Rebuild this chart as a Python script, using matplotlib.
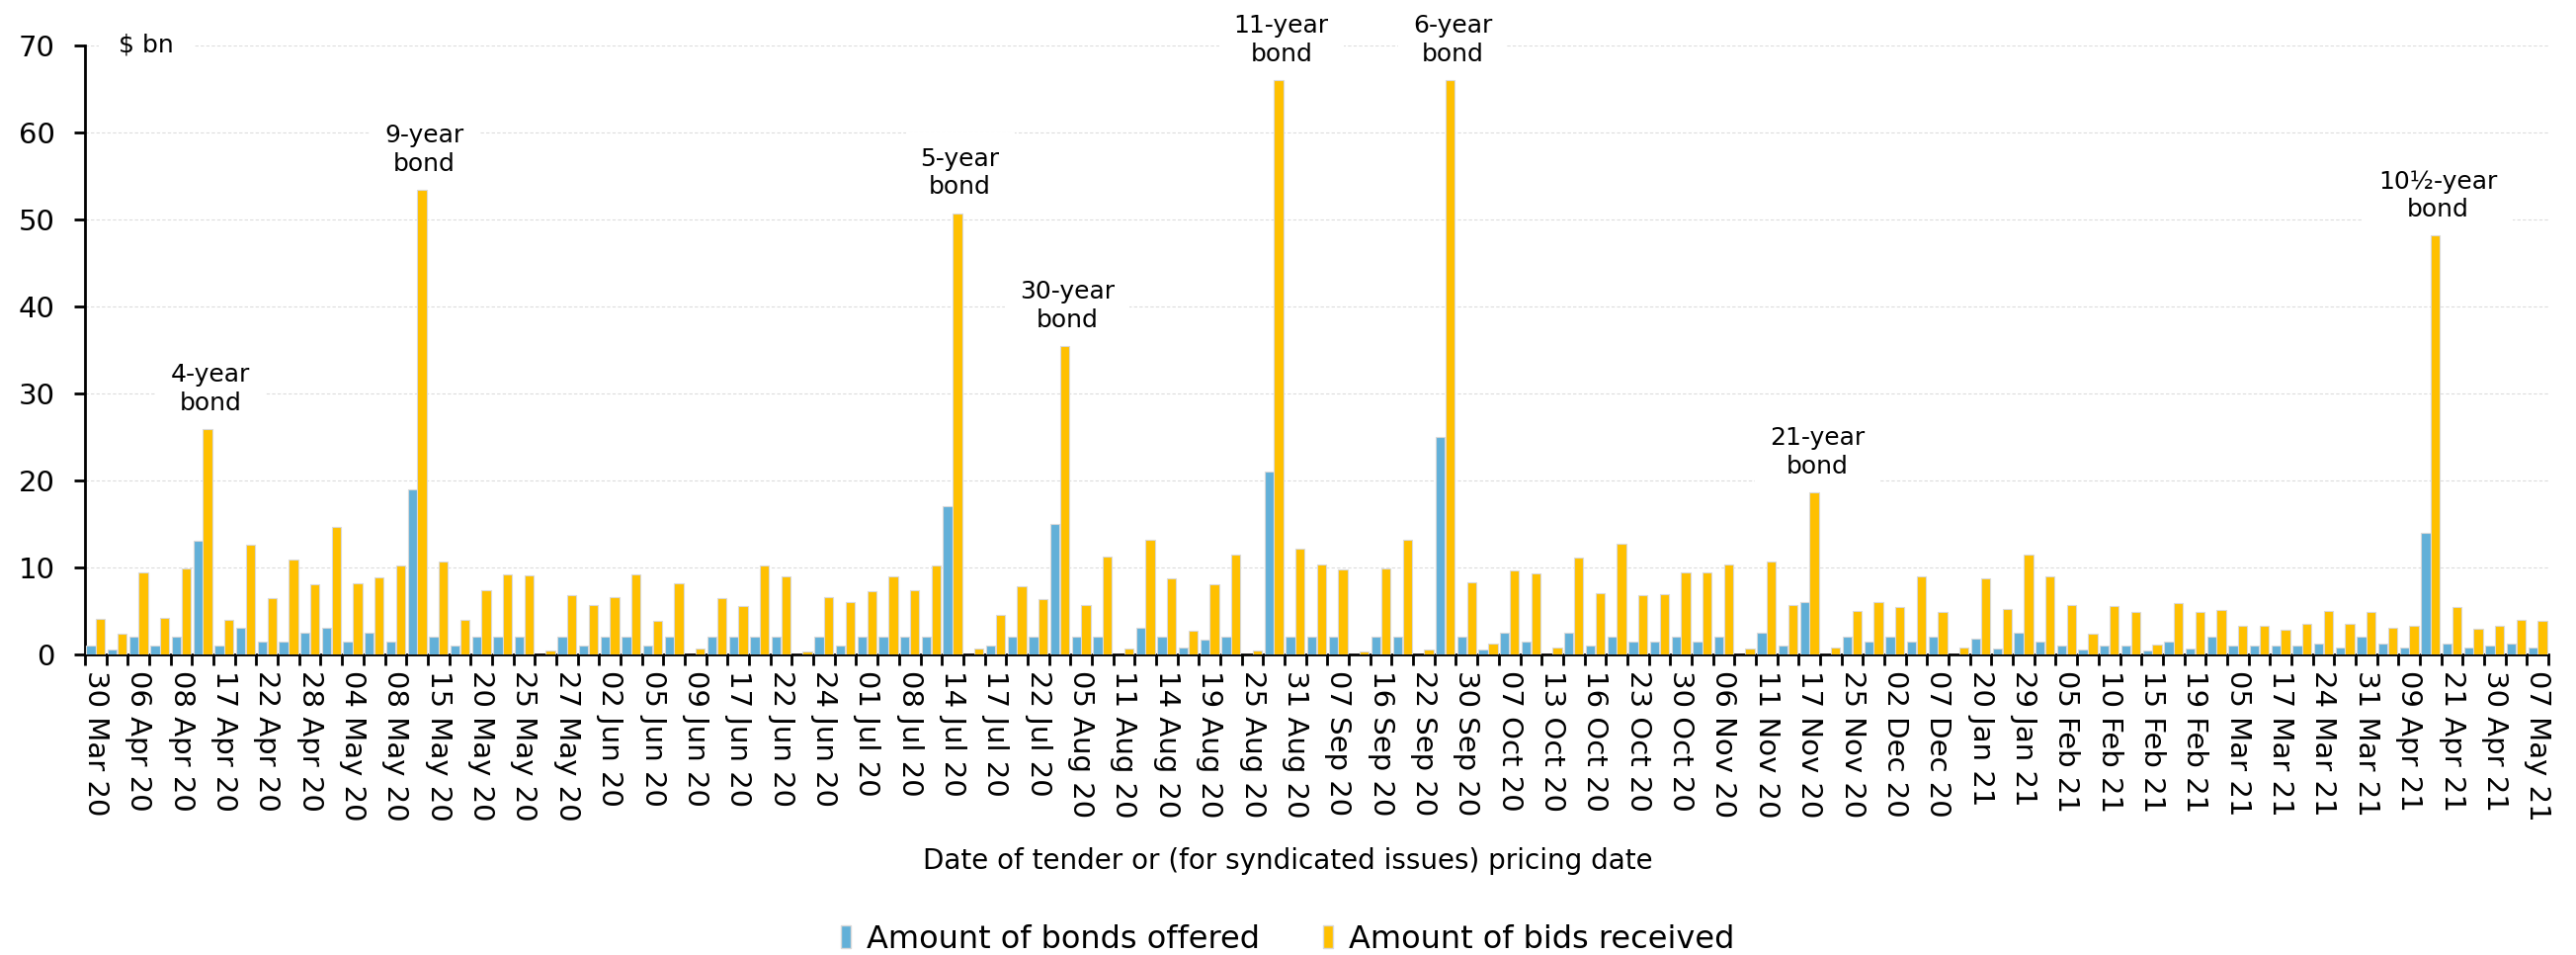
import matplotlib
matplotlib.use("Agg")
import matplotlib.pyplot as plt
import numpy as np
from matplotlib.patches import Patch

plt.rcParams["font.family"] = ["DejaVu Sans"]

_BLUE = "#62b0d8"
_GOLD = "#ffc000"
_EDGE = "#d9d9d9"
_GRID = "#dcdcdc"
_INK = "#000000"

# Every second tender date is labelled on the axis
tick_labels = [
    "30 Mar 20", "06 Apr 20", "08 Apr 20", "17 Apr 20", "22 Apr 20", "28 Apr 20",
    "04 May 20", "08 May 20", "15 May 20", "20 May 20", "25 May 20", "27 May 20",
    "02 Jun 20", "05 Jun 20", "09 Jun 20", "17 Jun 20", "22 Jun 20", "24 Jun 20",
    "01 Jul 20", "08 Jul 20", "14 Jul 20", "17 Jul 20", "22 Jul 20", "05 Aug 20",
    "11 Aug 20", "14 Aug 20", "19 Aug 20", "25 Aug 20", "31 Aug 20", "07 Sep 20",
    "16 Sep 20", "22 Sep 20", "30 Sep 20", "07 Oct 20", "13 Oct 20", "16 Oct 20",
    "23 Oct 20", "30 Oct 20", "06 Nov 20", "11 Nov 20", "17 Nov 20", "25 Nov 20",
    "02 Dec 20", "07 Dec 20", "20 Jan 21", "29 Jan 21", "05 Feb 21", "10 Feb 21",
    "15 Feb 21", "19 Feb 21", "05 Mar 21", "17 Mar 21", "24 Mar 21", "31 Mar 21",
    "09 Apr 21", "21 Apr 21", "30 Apr 21", "07 May 21",
]

# $ bn, one value per tender / syndication
offered = [
    1.0, 0.5, 2.0, 1.0, 2.0, 13.0, 1.0, 3.0, 1.5, 1.5,
    2.5, 3.0, 1.5, 2.5, 1.5, 19.0, 2.0, 1.0, 2.0, 2.0,
    2.0, 0.0, 2.0, 1.0, 2.0, 2.0, 1.0, 2.0, 0.0, 2.0,
    2.0, 2.0, 2.0, 0.0, 2.0, 1.0, 2.0, 2.0, 2.0, 2.0,
    17.0, 0.0, 1.0, 2.0, 2.0, 15.0, 2.0, 2.0, 0.0, 3.0,
    2.0, 0.8, 1.7, 2.0, 0.0, 21.0, 2.0, 2.0, 2.0, 0.0,
    2.0, 2.0, 0.0, 25.0, 2.0, 0.5, 2.5, 1.5, 0.0, 2.5,
    1.0, 2.0, 1.5, 1.5, 2.0, 1.5, 2.0, 0.0, 2.5, 1.0,
    6.0, 0.0, 2.0, 1.5, 2.0, 1.5, 2.0, 0.0, 1.8, 0.7,
    2.5, 1.5, 1.0, 0.5, 1.0, 1.0, 0.4, 1.5, 0.6, 2.0,
    1.0, 1.0, 1.0, 1.0, 1.2, 0.8, 2.0, 1.2, 0.8, 14.0,
    1.2, 0.8, 1.0, 1.2, 0.8,
]
bids = [
    4.1, 2.4, 9.4, 4.2, 9.8, 25.9, 4.0, 12.6, 6.4, 10.9,
    8.0, 14.6, 8.1, 8.8, 10.2, 53.4, 10.7, 4.0, 7.4, 9.2,
    9.1, 0.4, 6.8, 5.7, 6.6, 9.2, 3.8, 8.1, 0.6, 6.4,
    5.5, 10.2, 8.9, 0.3, 6.6, 6.0, 7.2, 9.0, 7.3, 10.2,
    50.7, 0.6, 4.5, 7.8, 6.3, 35.4, 5.7, 11.2, 0.6, 13.1,
    8.7, 2.7, 8.0, 11.5, 0.4, 66.0, 12.1, 10.3, 9.7, 0.3,
    9.9, 13.1, 0.5, 66.0, 8.3, 1.2, 9.6, 9.3, 0.8, 11.1,
    7.0, 12.7, 6.8, 6.9, 9.4, 9.4, 10.3, 0.6, 10.6, 5.7,
    18.6, 0.8, 5.0, 6.0, 5.4, 8.9, 4.9, 0.8, 8.7, 5.2,
    11.5, 8.9, 5.7, 2.4, 5.5, 4.8, 1.1, 5.9, 4.8, 5.1,
    3.3, 3.3, 2.8, 3.5, 5.0, 3.5, 4.9, 3.0, 3.3, 48.1,
    5.4, 2.9, 3.3, 4.0, 3.8,
]

# Syndicated issues: position in the series and label
syndicated_idx = [5, 15, 40, 45, 55, 63, 80, 109]
syndicated_names = [
    "4-year\nbond", "9-year\nbond", "5-year\nbond", "30-year\nbond",
    "11-year\nbond", "6-year\nbond", "21-year\nbond", "10½-year\nbond",
]

x = np.arange(len(bids))
width = 0.43

fig = plt.figure(figsize=(26.07, 9.66), dpi=100)
fig.patch.set_facecolor("white")
ax = fig.add_axes([0.033, 0.315, 0.9563, 0.6377])

ax.bar(x - 0.225, offered, width, color=_BLUE, edgecolor=_EDGE, linewidth=0.8, zorder=3)
ax.bar(x + 0.225, bids, width, color=_GOLD, edgecolor=_EDGE, linewidth=0.8, zorder=3)

for i, name in zip(syndicated_idx, syndicated_names):
    ax.text(i + 0.35, bids[i] + 1.6, name, ha="center", va="bottom", fontsize=18,
            linespacing=1.25, color=_INK, zorder=2, clip_on=False,
            bbox=dict(boxstyle="square,pad=0.6", facecolor="white", edgecolor="none"))

ax.text(0.0136, 70, "$ bn", transform=ax.get_yaxis_transform(), ha="left", va="center",
        fontsize=18, color=_INK, zorder=2,
        bbox=dict(boxstyle="square,pad=0.8", facecolor="white", edgecolor="none"))

ax.set_xlim(-0.5, len(bids) - 0.5)
ax.set_ylim(0, 70)
ax.set_yticks(np.arange(0, 71, 10))
ax.grid(axis="y", color=_GRID, linestyle=(0, (3, 2)), linewidth=0.8, zorder=0)
ax.set_axisbelow(True)

ax.set_xticks(np.arange(0, len(bids), 2))
ax.set_xticklabels(tick_labels, rotation=270, fontsize=21)
ax.set_xticks(np.arange(-0.5, len(bids), 1), minor=True)
ax.tick_params(axis="x", which="major", length=0, pad=12)
ax.tick_params(axis="x", which="minor", length=8, width=2, direction="out", color=_INK)
ax.tick_params(axis="y", length=8, width=2, direction="out", labelsize=21, pad=14, color=_INK)

for side in ("top", "right"):
    ax.spines[side].set_visible(False)
for side in ("left", "bottom"):
    ax.spines[side].set_color(_INK)
    ax.spines[side].set_linewidth(2)

fig.text(0.5, 0.098, "Date of tender or (for syndicated issues) pricing date",
         ha="center", va="center", fontsize=20, color=_INK)

handles = [Patch(facecolor=_BLUE, edgecolor=_EDGE), Patch(facecolor=_GOLD, edgecolor=_EDGE)]
fig.legend(handles, ["Amount of bonds offered", "Amount of bids received"],
           loc="center", bbox_to_anchor=(0.5, 0.0165), ncol=2, frameon=False,
           fontsize=23, handlelength=0.32, handleheight=0.7, handletextpad=0.5,
           columnspacing=2.0)

fig.savefig("out.png", dpi=100)
